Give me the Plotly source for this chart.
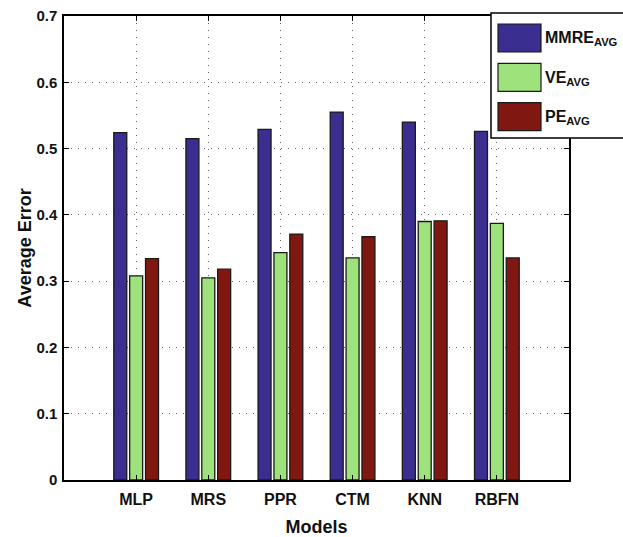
import plotly.graph_objects as go

# Average error of each regression model, three error measures
models = ["MLP", "MRS", "PPR", "CTM", "KNN", "RBFN"]
mmre_avg = [0.524, 0.515, 0.529, 0.555, 0.540, 0.526]
ve_avg = [0.308, 0.305, 0.343, 0.335, 0.390, 0.387]
pe_avg = [0.334, 0.318, 0.371, 0.367, 0.391, 0.335]
y_ticks = [0, 0.1, 0.2, 0.3, 0.4, 0.5, 0.6, 0.7]
y_tick_labels = ["0", "0.1", "0.2", "0.3", "0.4", "0.5", "0.6", "0.7"]

series_names = ["MMRE", "VE", "PE"]
series_colors = ["#3a2e91", "#9ee27c", "#801710"]

positions = list(range(1, len(models) + 1))
bar_w = 0.18
offsets = [-0.31, -0.09, 0.13]

fig = go.Figure()
for vals, name, col, off in zip([mmre_avg, ve_avg, pe_avg], series_names, series_colors, offsets):
    fig.add_trace(go.Bar(
        x=positions, y=vals, name=name, width=bar_w, offset=off,
        marker=dict(color=col, line=dict(color="#1a1a1a", width=1.3)),
        showlegend=False,
    ))

font_fam = "Liberation Sans, Arial, sans-serif"
axis_common = dict(
    showline=True, linecolor="#000", linewidth=1.5, mirror="ticks",
    ticks="inside", ticklen=5, tickcolor="#000", tickwidth=1,
    showgrid=True, gridcolor="#666", griddash="1px,6px", gridwidth=1,
    zeroline=False, automargin=False,
)

fig.update_layout(
    width=623, height=537,
    margin=dict(l=64, r=54, t=16, b=57),
    paper_bgcolor="white", plot_bgcolor="white",
    barmode="overlay",
    xaxis=dict(range=[0, 7], tickvals=positions, ticktext=models,
               tickfont=dict(family=font_fam, size=16, color="#111", weight="bold"),
               ticklabelstandoff=4,
               title=dict(text="Models", font=dict(family=font_fam, size=18, color="#111", weight="bold"),
                          standoff=16),
               **axis_common),
    yaxis=dict(range=[0, 0.7], tickvals=y_ticks, ticktext=y_tick_labels,
               tickfont=dict(family=font_fam, size=15, color="#111", weight="bold"),
               ticklabelstandoff=2,
               title=dict(text="Average Error", font=dict(family=font_fam, size=18, color="#111", weight="bold"),
                          standoff=0),
               **axis_common),
)

# Legend box with large swatches and subscripted labels (pixel layout -> paper coords)
plot_l, plot_r, plot_t, plot_b = 64, 569, 16, 480
def px_x(x):
    return (x - plot_l) / (plot_r - plot_l)
def px_y(y):
    return (plot_b - y) / (plot_b - plot_t)

fig.add_shape(type="rect", xref="paper", yref="paper",
              x0=px_x(491), x1=px_x(650), y0=px_y(138), y1=px_y(13),
              line=dict(color="#000", width=1.5), fillcolor="white", layer="above")
for i, (name, col) in enumerate(zip(series_names, series_colors)):
    top = 24 + i * 39.3
    fig.add_shape(type="rect", xref="paper", yref="paper",
                  x0=px_x(498), x1=px_x(541), y0=px_y(top + 28), y1=px_y(top),
                  line=dict(color="#1a1a1a", width=1.2), fillcolor=col, layer="above")
    fig.add_annotation(xref="paper", yref="paper", x=px_x(543), y=px_y(top + 15),
                       xanchor="left", yanchor="middle", showarrow=False,
                       text=f"{name}<sub>AVG</sub>",
                       font=dict(family=font_fam, size=16, color="#111", weight="bold"))

fig.write_html("out.html")
